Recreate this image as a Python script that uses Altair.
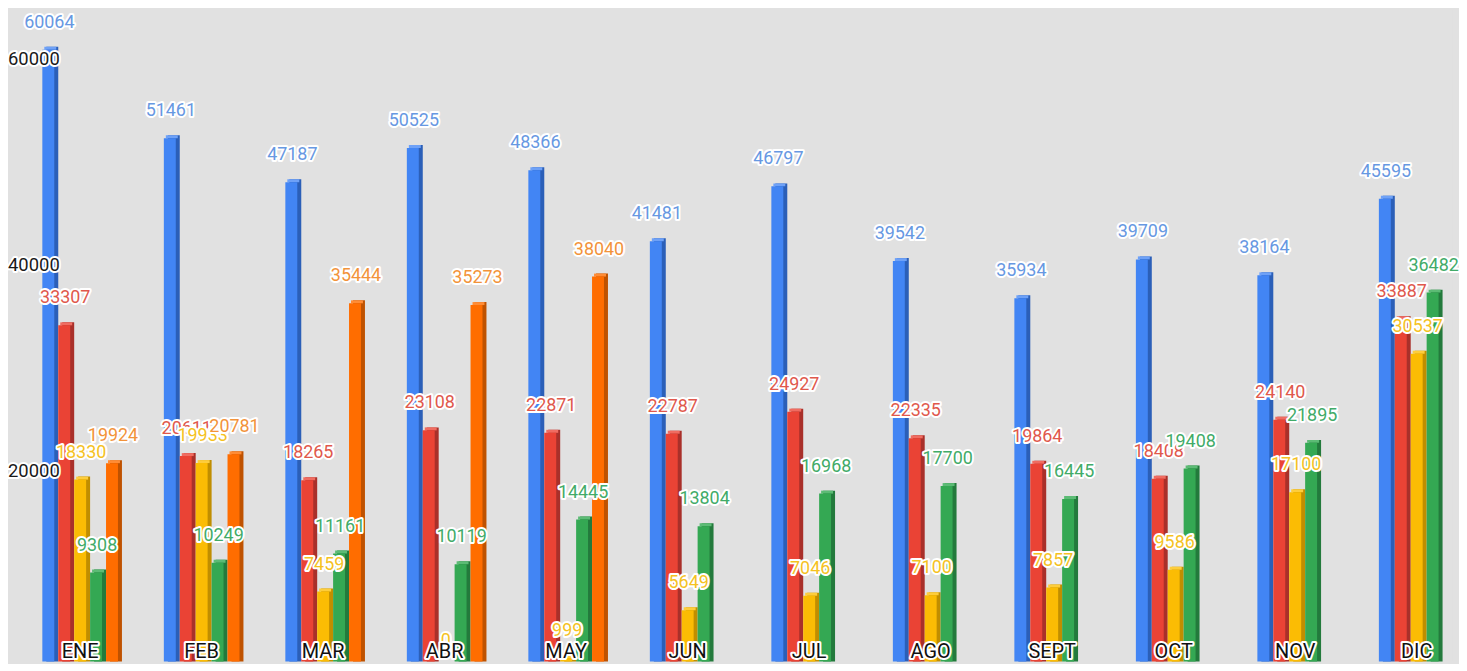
import altair as alt
import pandas as pd

months = ["ENE", "FEB", "MAR", "ABR", "MAY", "JUN", "JUL", "AGO", "SEPT", "OCT", "NOV", "DIC"]
series = ["Serie 1", "Serie 2", "Serie 3", "Serie 4", "Serie 5"]

blue = [60064, 51461, 47187, 50525, 48366, 41481, 46797, 39542, 35934, 39709, 38164, 45595]
red = [33307, 20611, 18265, 23108, 22871, 22787, 24927, 22335, 19864, 18408, 24140, 33887]
yellow = [18330, 19933, 7459, 0, 999, 5649, 7046, 7100, 7857, 9586, 17100, 30537]
green = [9308, 10249, 11161, 10119, 14445, 13804, 16968, 17700, 16445, 19408, 21895, 36482]
orange = [19924, 20781, 35444, 35273, 38040, None, None, None, None, None, None, None]

y_ticks = [20000, 40000, 60000]

front_colors = ["#4285f4", "#ea4335", "#fbbc04", "#34a853", "#ff6d00"]
side_colors = ["#2b5fb8", "#a9302a", "#c08e00", "#237a3c", "#bf5200"]
top_colors = ["#6ea1f7", "#f06c61", "#fdcd3c", "#5cbb75", "#ff8c35"]
label_colors = ["#6798e2", "#e0584c", "#f5c21f", "#42ab68", "#f2933a"]

values = [blue, red, yellow, green, orange]
rows = []
for s, vals in zip(series, values):
    for m, v in zip(months, vals):
        if v is not None:
            rows.append({"month": m, "series": s, "value": v})
df = pd.DataFrame(rows)
ticks_df = pd.DataFrame({"tick": y_ticks, "label": [str(t) for t in y_ticks]})
months_df = pd.DataFrame({"month": months})

W, H = 1451, 655
STEP = 122.09          # distance between month groups (px)
START = 34.5           # left edge of first group (px)
SLOT = 16              # slot per series within a group (px)
FACE = 12              # front face width (px)
DEPTH_X, DEPTH_Y = 4, 3

pi_bar = 1 - FACE / STEP
L_bar = STEP * (12 - pi_bar)


def xbar(shift):
    return alt.X("month:N", sort=months, axis=None,
                 scale=alt.Scale(type="band", domain=months,
                                 range=[START + shift, START + shift + L_bar],
                                 paddingInner=pi_bar, paddingOuter=0))


yscale = alt.Scale(domain=[676, 63961], zero=False, nice=False)
Y = alt.Y("value:Q", scale=yscale, axis=None)

layers = []
for i, (s, fc, sc, tc) in enumerate(zip(series, front_colors, side_colors, top_colors)):
    d = alt.Chart(df).transform_filter(alt.datum.series == s)
    side = d.mark_bar(clip=True, yOffset=-DEPTH_Y, fill=sc).encode(
        x=xbar(i * SLOT + DEPTH_X), y=Y, y2=alt.datum(0))
    top = d.mark_bar(clip=True, yOffset=-DEPTH_Y, y2Offset=0, fill=tc).encode(
        x=xbar(i * SLOT + DEPTH_X / 2), y=Y, y2=alt.Y2("value:Q"))
    front = d.mark_bar(clip=True, fill=fc).encode(
        x=xbar(i * SLOT), y=Y, y2=alt.datum(0))
    layers += [side, top, front]

for i, (s, lc) in enumerate(zip(series, label_colors)):
    sub = alt.Chart(df).transform_filter(alt.datum.series == s).encode(
        x=xbar(i * SLOT + 1), y=Y, text=alt.Text("value:Q", format="d")
    )
    layers.append(sub.mark_text(font="Roboto", fontSize=18, baseline="middle", dy=-27,
                                stroke="white", strokeWidth=4, strokeJoin="round",
                                fill="white"))
    layers.append(sub.mark_text(font="Roboto", fontSize=18, baseline="middle", dy=-27, fill=lc))

tick_base = alt.Chart(ticks_df).encode(
    x=alt.value(0), y=alt.Y("tick:Q", scale=yscale, axis=None), text="label:N"
)
layers.append(tick_base.mark_text(font="Roboto", fontSize=18.5, align="left", baseline="middle", dy=9,
                                  stroke="white", strokeWidth=4, strokeJoin="round", fill="white"))
layers.append(tick_base.mark_text(font="Roboto", fontSize=18.5, align="left", baseline="middle", dy=9,
                                  fill="#1a1a1a"))

month_x = alt.X("month:N", sort=months, axis=None,
                scale=alt.Scale(type="band", domain=months, range=[START, START + STEP * 11.655],
                                paddingInner=0.345, paddingOuter=0))
month_base = alt.Chart(months_df).encode(x=month_x, y=alt.value(646), text="month:N")
layers.append(month_base.mark_text(font="Roboto", fontSize=20, align="center", baseline="middle", dx=-2,
                                   stroke="white", strokeWidth=4, strokeJoin="round", fill="white"))
layers.append(month_base.mark_text(font="Roboto", fontSize=20, align="center", baseline="middle", dx=-2,
                                   fill="#111111"))

chart = alt.layer(*layers).resolve_scale(x="independent").properties(
    width=W, height=H, padding=0, background="#e1e1e1"
).configure_view(stroke=None, fill="#e1e1e1")

chart.save("out.html", embed_options={"renderer": "svg", "actions": False})
